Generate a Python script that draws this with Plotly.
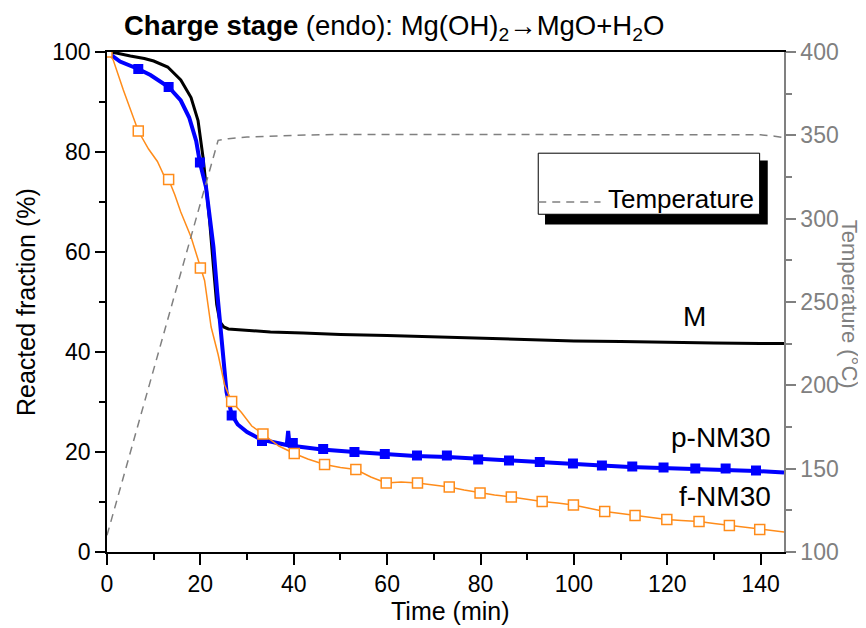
import plotly.graph_objects as go

# ---- data ----
m_time = [0, 2, 5, 8, 10, 13, 15.8, 18, 19.5, 20.6, 21.2, 22, 22.8, 23.5, 24.2, 25, 26, 30, 35, 42,
          50, 60, 70, 85, 100, 110, 120, 130, 140, 145]
m_frac = [100, 99.8, 99.2, 98.7, 98.2, 97.0, 94.4, 90.9, 86.3, 78.7, 73.4, 66, 57, 49.5, 46, 45, 44.6, 44.3, 44.0, 43.8,
          43.5, 43.3, 43.0, 42.6, 42.2, 42.1, 41.9, 41.8, 41.7, 41.7]

p_time = [0, 2.8, 6.7, 9.3, 13.2, 15.8, 17.6, 19.1, 19.9, 21.2, 22, 22.8, 23.6, 24.5, 25.1, 25.6, 26.2, 26.7,
          28, 30, 33, 36, 38.5, 38.8, 39.1, 40, 46, 53, 60, 66, 73, 80, 86, 93, 100, 106, 112, 119, 126, 132, 139, 145]
p_frac = [100, 98.1, 96.6, 95.4, 93.0, 90.3, 86.9, 82.2, 77.9, 73, 67, 61, 52, 44, 37, 32, 29, 27.5,
          25.5, 24, 22.5, 21.8, 21.4, 24.2, 21.4, 21.2, 20.5, 20.0, 19.5, 19.2, 19.0, 18.6, 18.3, 18.0, 17.6, 17.3,
          17.0, 16.8, 16.6, 16.5, 16.2, 15.9]
p_mark_time = [0, 6.7, 13.2, 19.9, 26.7, 33.2, 39.8, 46.3, 53.0, 59.5, 66.4, 72.8, 79.5, 86.1, 92.7, 99.8,
               106.0, 112.5, 119.2, 126.0, 132.5, 139.0]
p_mark_frac = [100, 96.6, 93.0, 77.9, 27.3, 22.2, 21.8, 20.6, 20.0, 19.6, 19.3, 19.3, 18.5, 18.3, 18.0, 17.7,
               17.3, 17.1, 16.9, 16.7, 16.7, 16.3]

f_time = [0, 1.3, 3.5, 5.6, 6.7, 8.9, 10.8, 12.1, 13.2, 14.5, 15.8, 18, 20.0, 20.9, 22.3, 23.8, 25.2, 25.8,
          26.7, 28.8, 31, 33.4, 36.8, 40.1, 43, 46.6, 50, 53.3, 56.5, 59.8, 63, 66.5, 70, 73.3, 76.5, 79.9,
          83, 86.6, 90, 93.2, 96.5, 99.9, 103, 106.6, 110, 113.1, 116.5, 119.9, 123, 126.8, 130, 133.3,
          136.5, 139.8, 142.5, 145]
f_frac = [100, 98.5, 92.4, 86.9, 84.2, 80.6, 78.1, 75.5, 74.5, 71.5, 68, 63, 56.8, 54.3, 45.0, 39.5, 33.4, 32.0,
          30.1, 27.9, 25.2, 23.6, 21.2, 19.7, 18.6, 17.5, 16.9, 16.5, 15.0, 13.8, 14.0, 13.8, 13.4, 13.0, 12.4, 11.8,
          11.4, 11.0, 10.5, 10.1, 9.8, 9.4, 8.8, 8.1, 7.7, 7.3, 6.9, 6.5, 6.3, 6.1, 5.7, 5.3,
          4.9, 4.5, 4.3, 4.0]
f_mark_time = [0, 6.7, 13.2, 20.0, 26.7, 33.4, 40.1, 46.6, 53.3, 59.8, 66.5, 73.3, 79.9, 86.6, 93.2, 99.9,
               106.6, 113.1, 119.9, 126.8, 133.3, 139.8]
f_mark_frac = [100, 84.2, 74.5, 56.8, 30.1, 23.6, 19.7, 17.5, 16.5, 13.8, 13.8, 13.0, 11.8, 11.0, 10.1, 9.4,
               8.1, 7.3, 6.5, 6.1, 5.3, 4.5]

temp_time = [0, 23.8, 26, 30, 40, 50, 70, 100, 130, 140, 143, 145]
temp_val = [110, 347, 348, 349, 350, 350.5, 350.5, 350.5, 350.5, 350.3, 349.5, 348.5]

x_ticks = [0, 20, 40, 60, 80, 100, 120, 140]
y_ticks = [0, 20, 40, 60, 80, 100]
y2_ticks = [100, 150, 200, 250, 300, 350, 400]

labels = ["M", "p-NM30", "f-NM30"]
label_x = [125.8, 142.6, 142.6]
label_y = [47.2, 23.0, 11.2]
label_anchor = ["center", "right", "right"]

# ---- styles ----
FONT = "Liberation Sans, Arial, sans-serif"
GREY = "#808080"
ORANGE = "#FF8C1A"
BLUE = "#0000FF"

fig = go.Figure()
fig.add_trace(go.Scatter(x=m_time, y=m_frac, mode="lines", line=dict(color="black", width=3),
                         showlegend=False))
fig.add_trace(go.Scatter(x=p_time, y=p_frac, mode="lines", line=dict(color=BLUE, width=4),
                         showlegend=False))
fig.add_trace(go.Scatter(x=p_mark_time, y=p_mark_frac, mode="markers",
                         marker=dict(symbol="square", size=10, color=BLUE, line=dict(width=0)),
                         showlegend=False))
fig.add_trace(go.Scatter(x=f_time, y=f_frac, mode="lines", line=dict(color=ORANGE, width=1.5),
                         showlegend=False))
fig.add_trace(go.Scatter(x=f_mark_time, y=f_mark_frac, mode="markers",
                         marker=dict(symbol="square", size=10, color="white",
                                     line=dict(color=ORANGE, width=1.5)),
                         showlegend=False))
fig.add_trace(go.Scatter(x=temp_time, y=temp_val, mode="lines", yaxis="y2",
                         line=dict(color=GREY, width=1.5, dash="8px,6px"), showlegend=False))

fig.update_layout(
    width=858, height=620,
    margin=dict(l=99, r=82, t=44, b=76),
    paper_bgcolor="white", plot_bgcolor="white",
    font=dict(family=FONT, size=23, color="black"),
    xaxis=dict(range=[0, 145], tickvals=x_ticks, ticks="outside", ticklen=11, tickwidth=1.5,
               tickcolor="black", showline=True, linecolor="black", linewidth=1.5, mirror=True,
               showgrid=False, zeroline=False, automargin=False,
               minor=dict(dtick=10, tick0=0, ticks="outside", ticklen=6, tickwidth=1.5, tickcolor="black"),
               tickfont=dict(size=23)),
    yaxis=dict(range=[0, 100], tickvals=y_ticks, ticks="outside", ticklen=10, tickwidth=1.5,
               tickcolor="black", showline=True, linecolor="black", linewidth=1.5,
               showgrid=False, zeroline=False, automargin=False,
               minor=dict(dtick=10, tick0=0, ticks="outside", ticklen=6, tickwidth=1.5, tickcolor="black"),
               tickfont=dict(size=23)),
    yaxis2=dict(range=[100, 400], tickvals=y2_ticks, overlaying="y", side="right", ticks="outside",
                ticklen=10, tickwidth=1.5, tickcolor=GREY, showline=True, linecolor=GREY, linewidth=1.5,
                showgrid=False, zeroline=False, automargin=False,
                minor=dict(dtick=25, tick0=100, ticks="outside", ticklen=6, tickwidth=1.5, tickcolor=GREY),
                tickfont=dict(size=23, color=GREY)),
)

# Legend box for Temperature (with drop shadow)
fig.add_shape(type="rect", xref="paper", yref="paper", x0=0.647, x1=0.976, y0=0.655, y1=0.783,
              fillcolor="black", line=dict(width=0), layer="above")
fig.add_shape(type="rect", xref="paper", yref="paper", x0=0.637, x1=0.964, y0=0.6755, y1=0.7976,
              fillcolor="white", line=dict(color="black", width=1), layer="above")
fig.add_shape(type="line", xref="paper", yref="paper", x0=0.637, x1=0.729, y0=0.700, y1=0.700,
              line=dict(color=GREY, width=1.5, dash="8px,6px"), layer="above")
fig.add_annotation(text="Temperature", xref="paper", yref="paper", x=0.737, y=0.706,
                   xanchor="left", yanchor="middle", showarrow=False, font=dict(size=26, color="black"))

# Series labels
for lab, xx, yy, anc in zip(labels, label_x, label_y, label_anchor):
    fig.add_annotation(text=lab, x=xx, y=yy, xref="x", yref="y", xanchor=anc, yanchor="middle",
                       showarrow=False, font=dict(size=28, color="black"))

# Title
fig.add_annotation(text="<b>Charge stage</b> (endo): Mg(OH)<sub>2</sub>→MgO+H<sub>2</sub>O",
                   xref="paper", yref="paper", x=0.0224, y=1.049, xanchor="left", yanchor="middle",
                   showarrow=False, font=dict(size=27.5, color="black"))

# Axis titles
fig.add_annotation(text="Time (min)", xref="paper", yref="paper", x=0.508, y=-0.118,
                   xanchor="center", yanchor="middle", showarrow=False, font=dict(size=25))
fig.add_annotation(text="Reacted fraction (%)", xref="paper", yref="paper", x=-0.1196, y=0.5,
                   xanchor="center", yanchor="middle", textangle=-90, showarrow=False, font=dict(size=25))
fig.add_annotation(text="Temperature (°C)", xref="paper", yref="paper", x=1.098, y=0.496,
                   xanchor="center", yanchor="middle", textangle=90, showarrow=False,
                   font=dict(size=22, color=GREY))

fig.write_html("out.html")
